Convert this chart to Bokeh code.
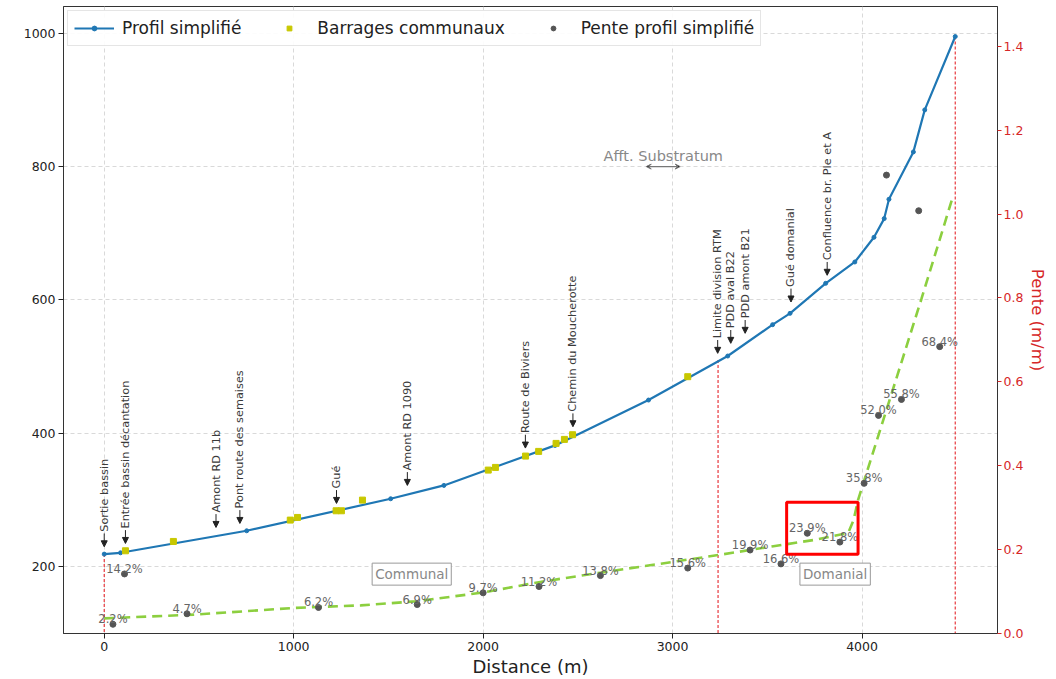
from bokeh.plotting import figure
from bokeh.models import (Range1d, LinearAxis, FixedTicker, Label, Arrow, NormalHead,
                          VeeHead, Legend, LegendItem, NumeralTickFormatter)
from bokeh.embed import file_html
from bokeh.resources import INLINE
from bokeh.core.properties import value

FONT = "DejaVu Sans"

# ---------------- data ----------------
profil_x = [0, 86, 752, 1512, 1793, 2380, 2873, 3291, 3528, 3620, 3808, 3962, 4063, 4117, 4142, 4271, 4331, 4492]
profil_z = [219, 221, 254, 302, 322, 382, 450, 516, 563, 580, 625, 657, 694, 722, 751, 822, 885, 995]

barrage_x = [112, 365, 982, 1020, 1224, 1252, 1363, 2027, 2065, 2224, 2293, 2385, 2429, 2472, 3080]
barrage_z = [224, 238, 270, 274, 284, 284, 300, 345, 349, 366, 373, 385, 391, 398, 485]

pente_x = [46, 107, 437, 1131, 1652, 2000, 2295, 2619, 3080, 3409, 3572, 3711, 3883, 4011, 4087, 4129, 4208, 4299, 4410]
pente_v = [0.022, 0.142, 0.047, 0.062, 0.069, 0.097, 0.112, 0.138, 0.156, 0.199, 0.166, 0.239, 0.218, 0.358, 0.520, 1.093, 0.558, 1.008, 0.684]
pente_labels = ["2.2%", "14.2%", "4.7%", "6.2%", "6.9%", "9.7%", "11.2%", "13.8%", "15.6%", "19.9%",
                "16.6%", "23.9%", "21.8%", "35.8%", "52.0%", "", "55.8%", "", "68.4%"]

tendance_x = [0, 476, 1003, 1354, 1652, 2004, 2302, 2619, 3005, 3268, 3532, 3760, 3927, 3955, 3980, 4313, 4475]
tendance_v = [0.036, 0.045, 0.061, 0.067, 0.077, 0.098, 0.123, 0.145, 0.171, 0.189, 0.208, 0.224, 0.240, 0.270, 0.320, 0.797, 1.035]

limite_x = [0, 3240, 4492]
limite_z = [219, 510, 995]

repere_labels = ["Sortie bassin", "Entrée bassin décantation", "Amont RD 11b", "Pont route des semaises",
                 "Gué", "Amont RD 1090", "Route de Biviers", "Chemin du Moucherotte",
                 "Limite division RTM", "PDD aval B22", "PDD amont B21", "Gué domanial",
                 "Confluence br. Ple et A"]
repere_x = [0, 112, 590, 716, 1226, 1600, 2223, 2474, 3238, 3307, 3383, 3625, 3816]
repere_z = [230, 235, 259, 265, 295, 322, 378, 410, 520, 535, 550, 597, 637]

zone_labels = ["Communal", "Domanial"]
zone_x = [1623, 3858]
zone_z = [189, 189]

substratum_label = "Afft. Substratum"
substratum_x = [2861, 3040]
substratum_z = [800, 800]

encadre_x = [3602, 3979]
encadre_v = [0.189, 0.313]

x_ticks = [0, 1000, 2000, 3000, 4000]
z_ticks = [200, 400, 600, 800, 1000]
v_ticks = [0.0, 0.2, 0.4, 0.6, 0.8, 1.0, 1.2, 1.4]

# ---------------- figure ----------------
Z0, Z1 = 100, 1040
p = figure(width=1050, height=679, output_backend="svg", toolbar_location=None,
           x_range=Range1d(-215, 4715), y_range=Range1d(Z0, Z1),
           min_border_left=63, min_border_right=52, min_border_top=6, min_border_bottom=45,
           background_fill_color="white", border_fill_color="white")
p.extra_y_ranges = {"pente": Range1d(0, 1.495)}
p.outline_line_color = "#333333"
p.outline_line_width = 1

for g in (p.xgrid[0], p.ygrid[0]):
    g.grid_line_color = "#d9d9d9"
    g.grid_line_dash = "4 3"
    g.grid_line_width = 1
p.xgrid[0].ticker = FixedTicker(ticks=x_ticks)
p.ygrid[0].ticker = FixedTicker(ticks=z_ticks)

def style_axis(ax, color="#222222"):
    ax.major_label_text_font = FONT
    ax.major_label_text_font_size = "12.5px"
    ax.major_label_text_color = color
    ax.axis_label_text_font = FONT
    ax.axis_label_text_font_style = "normal"
    ax.axis_label_text_color = color
    ax.major_tick_in = 0
    ax.major_tick_out = 5
    ax.minor_tick_out = 0
    ax.minor_tick_in = 0
    ax.major_tick_line_color = color
    ax.axis_line_color = "#333333"
    ax.major_label_standoff = 3

xa = p.xaxis[0]
style_axis(xa)
xa.ticker = FixedTicker(ticks=x_ticks)
xa.axis_label = "Distance (m)"
xa.axis_label_text_font_size = "18px"
xa.axis_label_standoff = 2

ya = p.yaxis[0]
style_axis(ya)
ya.ticker = FixedTicker(ticks=z_ticks)

RED = "#d62728"
ra = LinearAxis(y_range_name="pente", axis_label="Pente (m/m)")
style_axis(ra, RED)
ra.axis_line_color = "#333333"
ra.major_tick_out = 4
ra.major_label_standoff = 2
ra.ticker = FixedTicker(ticks=v_ticks)
ra.formatter = NumeralTickFormatter(format="0.0")
ra.axis_label_text_font_size = "16.5px"
ra.axis_label_standoff = 2
p.add_layout(ra, "right")

# ---------------- glyphs ----------------
p.segment(x0=limite_x, y0=limite_z, x1=limite_x, y1=[Z0] * len(limite_x),
          line_color="#e8383d", line_dash="3 2", line_width=1.2)

p.line(tendance_x, tendance_v, y_range_name="pente", line_color="#8ccf3f",
       line_width=2.6, line_dash="10 6")

BLUE = "#1f77b4"
r_line = p.line(profil_x, profil_z, line_color=BLUE, line_width=2.2)
r_pts = p.scatter(profil_x, profil_z, size=4, color=BLUE)
r_bar = p.scatter(barrage_x, barrage_z, marker="square", size=6, color="#c8c800")
r_pente = p.scatter(pente_x, pente_v, y_range_name="pente", size=6, color="#555555")

p.text(x=pente_x, y=pente_v, text=pente_labels, y_range_name="pente",
       text_align="center", text_baseline="alphabetic", y_offset=-5,
       text_font=value(FONT), text_font_size="11.5px", text_color="#666666")

p.quad(left=[encadre_x[0]], right=[encadre_x[1]], bottom=[encadre_v[0]], top=[encadre_v[1]],
       y_range_name="pente", fill_alpha=0, line_color="#ff0000", line_width=3)

# reference annotations (rotated text + arrow)
for lbl, x, z in zip(repere_labels, repere_x, repere_z):
    p.add_layout(Arrow(end=NormalHead(size=6, fill_color="#222222", line_color="#222222"),
                       x_start=x, y_start=z + 20, x_end=x, y_end=z,
                       line_color="#222222", line_width=1))
    p.add_layout(Label(x=x, y=z, y_offset=15, text=lbl, angle=90, angle_units="deg",
                       text_align="left", text_baseline="middle",
                       text_font=FONT, text_font_size="11.3px", text_color="#3a3a3a"))

for lbl, x, z in zip(zone_labels, zone_x, zone_z):
    p.add_layout(Label(x=x, y=z, text=lbl, text_align="center", text_baseline="middle",
                       text_font=FONT, text_font_size="13.5px", text_color="#888888",
                       border_line_color="#999999", border_line_width=1,
                       background_fill_color="white", padding=3))

p.add_layout(Label(x=(substratum_x[0] + substratum_x[1]) / 2, y=substratum_z[0], y_offset=11,
                   text=substratum_label, text_align="center", text_baseline="middle",
                   text_font=FONT, text_font_size="14.5px", text_color="#888888"))
p.add_layout(Arrow(start=VeeHead(size=5, line_color="#777777", line_width=1),
                   end=VeeHead(size=5, line_color="#777777", line_width=1),
                   x_start=substratum_x[0], y_start=substratum_z[0],
                   x_end=substratum_x[1], y_end=substratum_z[1],
                   line_color="#777777", line_width=1.2))

legend = Legend(items=[LegendItem(label="Profil simplifié", renderers=[r_line, r_pts]),
                       LegendItem(label="Barrages communaux", renderers=[r_bar]),
                       LegendItem(label="Pente profil simplifié", renderers=[r_pente])],
                location="top_left", orientation="horizontal")
legend.label_text_font = FONT
legend.label_text_font_size = "17px"
legend.label_text_color = "#222222"
legend.glyph_width = 40
legend.glyph_height = 12
legend.label_height = 22
legend.label_standoff = 8
legend.spacing = 28
legend.padding = 6
legend.margin = 4
legend.border_line_color = "#cccccc"
legend.background_fill_alpha = 0.9
p.add_layout(legend)

open("out.html", "w").write(file_html(p, INLINE))
